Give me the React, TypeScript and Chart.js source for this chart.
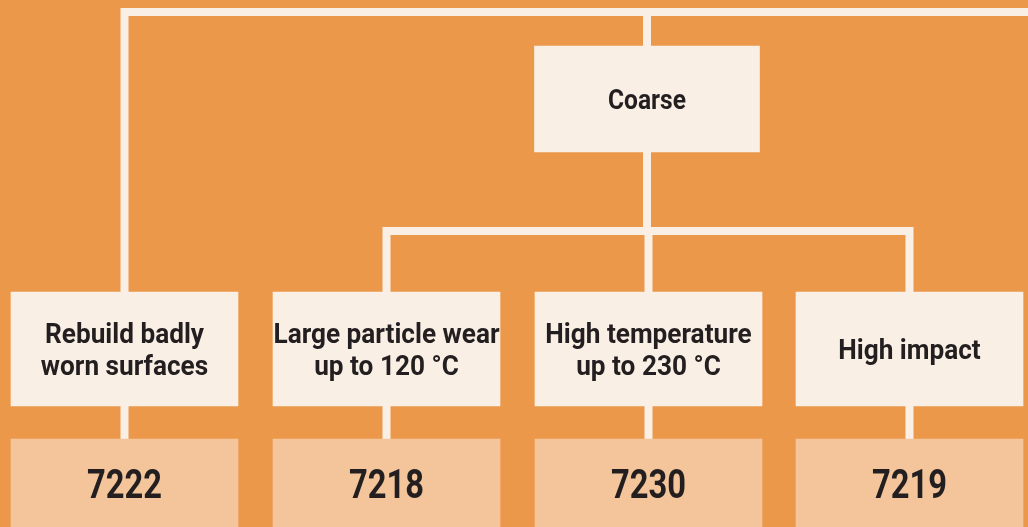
import React, { useEffect, useRef } from "react";
import { Chart, registerables } from "chart.js";

Chart.register(...registerables);

// ---- data (the selection tree) ----
const applications: string[] = [
  "Rebuild badly\nworn surfaces",
  "Large particle wear\nup to 120 °C",
  "High temperature\nup to 230 °C",
  "High impact",
];
const products: string[] = ["7222", "7218", "7230", "7219"];
const groupLabel = "Coarse";
const groupMembers: number[] = [1, 2, 3];

// ---- layout (axis units = pixels) ----
const W = 1028;
const H = 527;
const colX = [124.5, 386.5, 648.5, 909.5];
const groupX = 647;
const busTopY = 12;
const branchY = 231;
const groupBox: [number, number] = [46, 152];
const appBox: [number, number] = [292, 406];
const prodBox: [number, number] = [439, 540];
const boxWidth = 227;
const groupBoxWidth = 225;

const BG = "#EB984A";
const LIGHT = "#FAEFE5";
const PROD = "#F4C59A";
const TEXT = "#231F20";
const FONT = "Roboto, 'DejaVu Sans Condensed', sans-serif";

export default function App() {
  const ref = useRef<HTMLCanvasElement | null>(null);

  useEffect(() => {
    document.body.style.margin = "0";
    const canvas = ref.current;
    if (!canvas) return;

    const lineStyle = {
      type: "line" as const,
      borderColor: LIGHT,
      borderWidth: 8,
      pointRadius: 0,
      tension: 0,
      fill: false,
      borderJoinStyle: "miter" as const,
      borderCapStyle: "butt" as const,
      order: 10,
    };

    const first = groupMembers[0];
    const last = groupMembers[groupMembers.length - 1];
    const standalone = applications.map((_, i) => i).filter((i) => !groupMembers.includes(i));

    const lineSets: any[] = [];
    standalone.forEach((i) => {
      lineSets.push({
        ...lineStyle,
        label: "bus-" + i,
        data: [
          { x: colX[i], y: prodBox[0] + 20 },
          { x: colX[i], y: busTopY },
          { x: W + 20, y: busTopY },
        ],
      });
    });
    lineSets.push({
      ...lineStyle,
      label: "trunk",
      data: [
        { x: groupX, y: busTopY },
        { x: groupX, y: branchY },
      ],
    });
    lineSets.push({
      ...lineStyle,
      label: "branch",
      data: [
        { x: colX[first], y: prodBox[0] + 20 },
        { x: colX[first], y: branchY },
        { x: colX[last], y: branchY },
        { x: colX[last], y: prodBox[0] + 20 },
      ],
    });
    groupMembers
      .filter((i) => i !== first && i !== last)
      .forEach((i) => {
        lineSets.push({
          ...lineStyle,
          label: "leg-" + i,
          data: [
            { x: colX[i], y: branchY },
            { x: colX[i], y: prodBox[0] + 20 },
          ],
        });
      });

    const barStyle = {
      type: "bar" as const,
      grouped: false,
      borderWidth: 0,
      borderSkipped: false,
      order: 1,
    };

    const datasets: any[] = [
      ...lineSets,
      {
        ...barStyle,
        label: "group",
        backgroundColor: LIGHT,
        barThickness: groupBoxWidth,
        data: [{ x: groupX, y: groupBox }],
        texts: [groupLabel],
        fontSize: 28,
        refText: "Coarse",
        refWidth: 78,
      },
      {
        ...barStyle,
        label: "applications",
        backgroundColor: LIGHT,
        barThickness: boxWidth,
        data: applications.map((_, i) => ({ x: colX[i], y: appBox })),
        texts: applications,
        fontSize: 28,
        refText: "Rebuild badly",
        refWidth: 159,
      },
      {
        ...barStyle,
        label: "products",
        backgroundColor: PROD,
        barThickness: boxWidth,
        data: products.map((_, i) => ({ x: colX[i], y: prodBox })),
        texts: products,
        fontSize: 40,
        refText: "7222",
        refWidth: 75,
        textCenter: 483.5,
      },
    ];

    const bgPlugin = {
      id: "bg",
      beforeDraw(chart: any) {
        const ctx = chart.ctx;
        ctx.save();
        ctx.fillStyle = BG;
        ctx.fillRect(0, 0, chart.width, chart.height);
        ctx.restore();
      },
    };

    const textPlugin = {
      id: "boxText",
      afterDatasetsDraw(chart: any) {
        const ctx = chart.ctx;
        chart.data.datasets.forEach((ds: any, di: number) => {
          if (!ds.texts) return;
          const meta = chart.getDatasetMeta(di);
          const size = ds.fontSize;
          const lh = size * 1.14;
          ctx.save();
          ctx.fillStyle = TEXT;
          ctx.font = `bold ${size}px ${FONT}`;
          ctx.textAlign = "center";
          ctx.textBaseline = "alphabetic";
          const sx = Math.min(1, ds.refWidth / ctx.measureText(ds.refText).width);
          meta.data.forEach((el: any, i: number) => {
            const lines = String(ds.texts[i]).split("\n");
            const cx = el.x;
            const cy =
              ds.textCenter !== undefined
                ? chart.scales.y.getPixelForValue(ds.textCenter)
                : (el.y + el.base) / 2;
            const capH = size * 0.711;
            lines.forEach((ln: string, k: number) => {
              const off = (k - (lines.length - 1) / 2) * lh;
              ctx.save();
              ctx.translate(cx, cy + off + capH / 2);
              ctx.scale(sx, 1);
              ctx.fillText(ln, 0, 0);
              ctx.restore();
            });
          });
          ctx.restore();
        });
      },
    };

    const chart = new Chart(canvas, {
      type: "bar",
      data: { datasets },
      options: {
        animation: false,
        responsive: false,
        maintainAspectRatio: false,
        events: [],
        layout: { padding: 0 },
        plugins: { legend: { display: false }, tooltip: { enabled: false } },
        scales: {
          x: { type: "linear", min: 0, max: W, offset: false, display: false },
          y: { type: "linear", min: 0, max: H, reverse: true, display: false },
        },
      } as any,
      plugins: [bgPlugin, textPlugin],
    });

    return () => chart.destroy();
  }, []);

  return (
    <div style={{ width: W, height: H }}>
      <canvas ref={ref} width={W} height={H} style={{ display: "block" }} />
    </div>
  );
}
